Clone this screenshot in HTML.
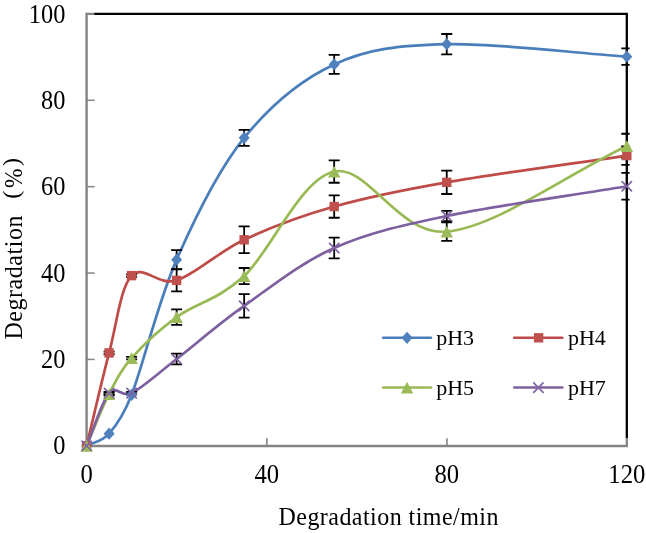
<!DOCTYPE html><html><head><meta charset="utf-8"><style>html,body{margin:0;padding:0;background:#fff}svg{display:block;will-change:transform}text{font-family:"Liberation Serif",serif;fill:#000}</style></head><body>
<svg width="646" height="533" viewBox="0 0 646 533">
<rect width="646" height="533" fill="#fff"/>
<g fill="none">
<path d="M86.60,12.75 V445.95 H628.00" stroke="#848484" stroke-width="2.4" stroke-linejoin="miter"/>
<path d="M86.60,13.90 H94.3" stroke="#848484" stroke-width="2.3"/>
<path d="M94.20,13.90 H626.80 V438.20" stroke="#000" stroke-width="2.3"/>
<path d="M626.80,438.2 V445.95" stroke="#848484" stroke-width="2.3"/>
<path d="M86.60,359.42 H94.6" stroke="#848484" stroke-width="1.5"/>
<path d="M86.60,273.04 H94.6" stroke="#848484" stroke-width="1.5"/>
<path d="M86.60,186.66 H94.6" stroke="#848484" stroke-width="1.5"/>
<path d="M86.60,100.28 H94.6" stroke="#848484" stroke-width="1.5"/>
<path d="M266.87,445.95 V438.2" stroke="#848484" stroke-width="1.6"/>
<path d="M446.94,445.95 V438.2" stroke="#848484" stroke-width="1.6"/>
</g>
<text transform="translate(65.40,454.40) scale(1,1.150)" font-size="24.4" text-anchor="end">0</text>
<text transform="translate(65.40,368.02) scale(1,1.150)" font-size="24.4" text-anchor="end">20</text>
<text transform="translate(65.40,281.64) scale(1,1.150)" font-size="24.4" text-anchor="end">40</text>
<text transform="translate(65.40,195.26) scale(1,1.150)" font-size="24.4" text-anchor="end">60</text>
<text transform="translate(65.40,108.88) scale(1,1.150)" font-size="24.4" text-anchor="end">80</text>
<text transform="translate(65.40,22.50) scale(1,1.150)" font-size="24.4" text-anchor="end">100</text>
<text transform="translate(86.65,483.40) scale(1,1.100)" font-size="24.7" text-anchor="middle">0</text>
<text transform="translate(266.72,483.40) scale(1,1.100)" font-size="24.7" text-anchor="middle">40</text>
<text transform="translate(446.79,483.40) scale(1,1.100)" font-size="24.7" text-anchor="middle">80</text>
<text transform="translate(626.85,483.40) scale(1,1.100)" font-size="24.7" text-anchor="middle">120</text>
<text transform="translate(278.50,524.70) scale(1,1.030)" font-size="24" text-anchor="start" textLength="220" lengthAdjust="spacing">Degradation time/min</text>
<g transform="translate(21.6,339.6) rotate(-90)">
<text transform="translate(0.00,0.00) scale(1,1.040)" font-size="24" text-anchor="start" textLength="124" lengthAdjust="spacing">Degradation</text>
<text transform="translate(140.80,-2.40) scale(1,1.000)" font-size="24" text-anchor="start">(</text>
<text transform="translate(151.60,0.00) scale(1,1.080)" font-size="23.4" text-anchor="start">%</text>
<text transform="translate(173.50,-2.40) scale(1,1.000)" font-size="24" text-anchor="start">)</text>
</g>
<path d="M86.60,445.80 C94.10,441.77 101.61,442.20 109.11,433.71 C116.61,425.21 123.49,415.77 131.62,394.84 C142.87,365.83 157.88,302.48 176.63,259.65 C195.39,216.82 217.90,170.39 244.16,137.86 C270.42,105.32 300.43,80.05 334.19,64.43 C367.96,48.81 397.97,45.43 446.74,44.13 C495.50,42.84 566.78,52.48 626.80,56.66" fill="none" stroke="#4a7ebb" stroke-width="2.70" stroke-linecap="round"/>
<path d="M86.60,445.80 C94.10,414.85 101.61,381.30 109.11,352.94 C116.61,324.58 120.36,287.72 131.62,275.63 C142.87,263.54 157.88,286.36 176.63,280.38 C195.39,274.41 217.90,252.09 244.16,239.78 C270.42,227.47 300.43,216.10 334.19,206.53 C367.96,196.95 397.97,190.84 446.74,182.34 C495.50,173.85 566.78,164.49 626.80,155.56" fill="none" stroke="#be4b48" stroke-width="2.70" stroke-linecap="round"/>
<path d="M86.60,445.80 C94.10,428.52 101.61,408.58 109.11,393.97 C116.61,379.36 120.36,370.94 131.62,358.12 C142.87,345.31 157.88,330.77 176.63,317.09 C195.39,303.42 217.90,300.32 244.16,276.06 C270.42,251.80 300.43,178.96 334.19,171.54 C367.96,164.13 397.97,235.82 446.74,231.58 C495.50,227.33 566.78,174.57 626.80,146.06" fill="none" stroke="#98b954" stroke-width="2.70" stroke-linecap="round"/>
<path d="M86.60,445.80 C94.10,428.24 101.61,401.89 109.11,393.11 C116.42,384.55 121.57,398.18 131.62,393.11 C142.87,387.42 157.88,373.53 176.63,358.99 C195.39,344.45 217.90,324.36 244.16,305.86 C270.42,287.36 300.43,262.96 334.19,247.99 C367.96,233.02 397.97,226.32 446.74,216.03 C495.50,205.74 566.78,196.16 626.80,186.23" fill="none" stroke="#7d60a0" stroke-width="2.70" stroke-linecap="round"/>
<clipPath id="c"><rect x="0" y="0" width="629.6" height="533"/></clipPath><g clip-path="url(#c)" stroke="#000" stroke-width="1.8" fill="none">
<path d="M176.63,250.15 V269.15 M171.13,250.15 H182.13 M171.13,269.15 H182.13"/>
<path d="M244.16,129.78 V145.93 M238.66,129.78 H249.66 M238.66,145.93 H249.66"/>
<path d="M334.19,54.93 V73.93 M328.69,54.93 H339.69 M328.69,73.93 H339.69"/>
<path d="M446.74,33.98 V54.28 M441.24,33.98 H452.24 M441.24,54.28 H452.24"/>
<path d="M626.80,48.45 V64.86 M621.30,48.45 H632.30 M621.30,64.86 H632.30"/>
<path d="M109.11,351.65 V354.24 M103.61,351.65 H114.61 M103.61,354.24 H114.61"/>
<path d="M131.62,274.34 V276.93 M126.12,274.34 H137.12 M126.12,276.93 H137.12"/>
<path d="M176.63,269.33 V291.44 M171.13,269.33 H182.13 M171.13,291.44 H182.13"/>
<path d="M244.16,226.39 V253.17 M238.66,226.39 H249.66 M238.66,253.17 H249.66"/>
<path d="M334.19,195.30 V217.76 M328.69,195.30 H339.69 M328.69,217.76 H339.69"/>
<path d="M446.74,170.68 V194.00 M441.24,170.68 H452.24 M441.24,194.00 H452.24"/>
<path d="M626.80,146.28 V164.85 M621.30,146.28 H632.30 M621.30,164.85 H632.30"/>
<path d="M109.11,392.68 V395.27 M103.61,392.68 H114.61 M103.61,395.27 H114.61"/>
<path d="M131.62,356.83 V359.42 M126.12,356.83 H137.12 M126.12,359.42 H137.12"/>
<path d="M176.63,309.32 V324.87 M171.13,309.32 H182.13 M171.13,324.87 H182.13"/>
<path d="M244.16,267.99 V284.14 M238.66,267.99 H249.66 M238.66,284.14 H249.66"/>
<path d="M334.19,160.31 V182.77 M328.69,160.31 H339.69 M328.69,182.77 H339.69"/>
<path d="M446.74,222.29 V240.86 M441.24,222.29 H452.24 M441.24,240.86 H452.24"/>
<path d="M626.80,133.75 V158.37 M621.30,133.75 H632.30 M621.30,158.37 H632.30"/>
<path d="M109.11,391.81 V394.40 M103.61,391.81 H114.61 M103.61,394.40 H114.61"/>
<path d="M131.62,391.81 V394.40 M126.12,391.81 H137.12 M126.12,394.40 H137.12"/>
<path d="M176.63,353.59 V364.39 M171.13,353.59 H182.13 M171.13,364.39 H182.13"/>
<path d="M244.16,294.20 V317.53 M238.66,294.20 H249.66 M238.66,317.53 H249.66"/>
<path d="M334.19,237.62 V258.36 M328.69,237.62 H339.69 M328.69,258.36 H339.69"/>
<path d="M446.74,210.85 V221.21 M441.24,210.85 H452.24 M441.24,221.21 H452.24"/>
<path d="M626.80,172.93 V199.53 M621.30,172.93 H632.30 M621.30,199.53 H632.30"/>
</g>
<path d="M86.60,439.70 L92.10,445.80 L86.60,451.90 L81.10,445.80 Z" fill="#4f81bd"/>
<path d="M109.11,427.61 L114.61,433.71 L109.11,439.81 L103.61,433.71 Z" fill="#4f81bd"/>
<path d="M131.62,388.74 L137.12,394.84 L131.62,400.94 L126.12,394.84 Z" fill="#4f81bd"/>
<path d="M176.63,253.55 L182.13,259.65 L176.63,265.75 L171.13,259.65 Z" fill="#4f81bd"/>
<path d="M244.16,131.76 L249.66,137.86 L244.16,143.96 L238.66,137.86 Z" fill="#4f81bd"/>
<path d="M334.19,58.33 L339.69,64.43 L334.19,70.53 L328.69,64.43 Z" fill="#4f81bd"/>
<path d="M446.74,38.03 L452.24,44.13 L446.74,50.23 L441.24,44.13 Z" fill="#4f81bd"/>
<path d="M626.80,50.56 L632.30,56.66 L626.80,62.76 L621.30,56.66 Z" fill="#4f81bd"/>
<rect x="81.90" y="441.10" width="9.40" height="9.40" fill="#c0504d"/>
<rect x="104.41" y="348.24" width="9.40" height="9.40" fill="#c0504d"/>
<rect x="126.92" y="270.93" width="9.40" height="9.40" fill="#c0504d"/>
<rect x="171.93" y="275.68" width="9.40" height="9.40" fill="#c0504d"/>
<rect x="239.46" y="235.08" width="9.40" height="9.40" fill="#c0504d"/>
<rect x="329.49" y="201.83" width="9.40" height="9.40" fill="#c0504d"/>
<rect x="442.04" y="177.64" width="9.40" height="9.40" fill="#c0504d"/>
<rect x="622.10" y="150.86" width="9.40" height="9.40" fill="#c0504d"/>
<path d="M86.60,440.00 L92.80,451.80 L80.40,451.80 Z" fill="#9bbb59"/>
<path d="M109.11,388.17 L115.31,399.97 L102.91,399.97 Z" fill="#9bbb59"/>
<path d="M131.62,352.32 L137.82,364.12 L125.42,364.12 Z" fill="#9bbb59"/>
<path d="M176.63,311.29 L182.83,323.09 L170.43,323.09 Z" fill="#9bbb59"/>
<path d="M244.16,270.26 L250.36,282.06 L237.96,282.06 Z" fill="#9bbb59"/>
<path d="M334.19,165.74 L340.39,177.54 L327.99,177.54 Z" fill="#9bbb59"/>
<path d="M446.74,225.78 L452.94,237.58 L440.54,237.58 Z" fill="#9bbb59"/>
<path d="M626.80,140.26 L633.00,152.06 L620.60,152.06 Z" fill="#9bbb59"/>
<path d="M81.90,441.10 L91.30,450.50 M81.90,450.50 L91.30,441.10" stroke="#8064a2" stroke-width="1.7" stroke-linecap="round" fill="none"/>
<path d="M104.41,388.41 L113.81,397.81 M104.41,397.81 L113.81,388.41" stroke="#8064a2" stroke-width="1.7" stroke-linecap="round" fill="none"/>
<path d="M126.92,388.41 L136.32,397.81 M126.92,397.81 L136.32,388.41" stroke="#8064a2" stroke-width="1.7" stroke-linecap="round" fill="none"/>
<path d="M171.93,354.29 L181.33,363.69 M171.93,363.69 L181.33,354.29" stroke="#8064a2" stroke-width="1.7" stroke-linecap="round" fill="none"/>
<path d="M239.46,301.16 L248.86,310.56 M239.46,310.56 L248.86,301.16" stroke="#8064a2" stroke-width="1.7" stroke-linecap="round" fill="none"/>
<path d="M329.49,243.29 L338.89,252.69 M329.49,252.69 L338.89,243.29" stroke="#8064a2" stroke-width="1.7" stroke-linecap="round" fill="none"/>
<path d="M442.04,211.33 L451.44,220.73 M442.04,220.73 L451.44,211.33" stroke="#8064a2" stroke-width="1.7" stroke-linecap="round" fill="none"/>
<path d="M622.10,181.53 L631.50,190.93 M622.10,190.93 L631.50,181.53" stroke="#8064a2" stroke-width="1.7" stroke-linecap="round" fill="none"/>
<path d="M383.10,337.80 H431.00" stroke="#4a7ebb" stroke-width="2.50" stroke-linecap="round" fill="none"/>
<path d="M407.05,331.70 L412.55,337.80 L407.05,343.90 L401.55,337.80 Z" fill="#4f81bd"/>
<text transform="translate(436.20,345.20) scale(1,1.000)" font-size="22" text-anchor="start">pH3</text>
<path d="M514.20,337.80 H562.40" stroke="#be4b48" stroke-width="2.50" stroke-linecap="round" fill="none"/>
<rect x="533.90" y="333.10" width="9.40" height="9.40" fill="#c0504d"/>
<text transform="translate(567.90,345.20) scale(1,1.000)" font-size="22" text-anchor="start">pH4</text>
<path d="M383.10,387.60 H431.00" stroke="#98b954" stroke-width="2.50" stroke-linecap="round" fill="none"/>
<path d="M407.05,381.80 L413.25,393.60 L400.85,393.60 Z" fill="#9bbb59"/>
<text transform="translate(436.20,395.00) scale(1,1.000)" font-size="22" text-anchor="start">pH5</text>
<path d="M514.20,387.60 H562.40" stroke="#7d60a0" stroke-width="2.50" stroke-linecap="round" fill="none"/>
<path d="M533.70,382.90 L543.10,392.30 M533.70,392.30 L543.10,382.90" stroke="#8064a2" stroke-width="1.7" stroke-linecap="round" fill="none"/>
<text transform="translate(567.90,395.00) scale(1,1.000)" font-size="22" text-anchor="start">pH7</text>
</svg></body></html>
